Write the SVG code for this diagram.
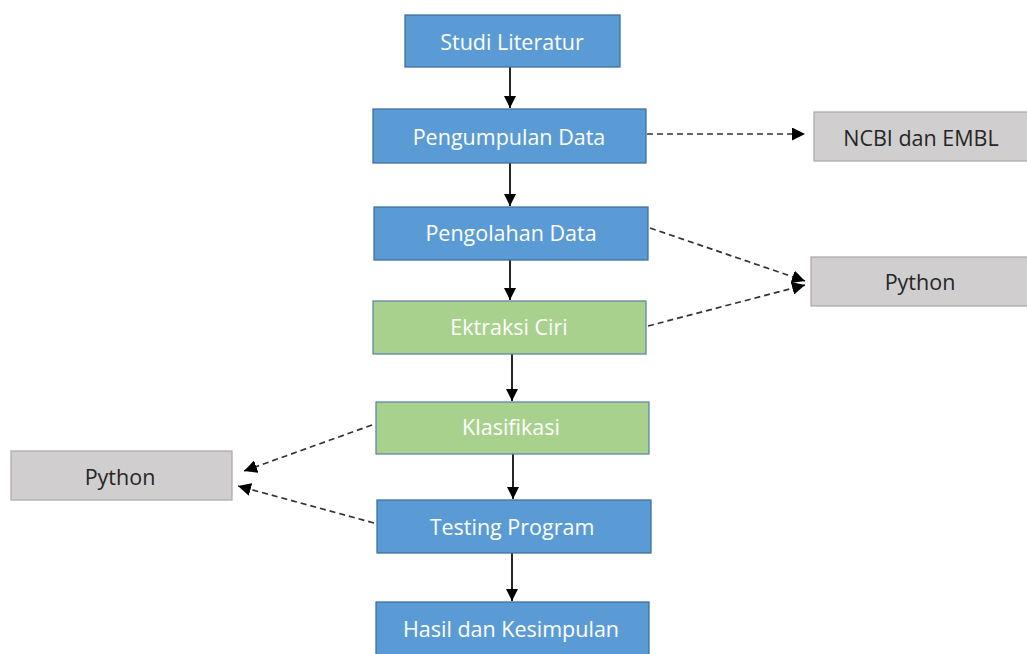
<svg xmlns="http://www.w3.org/2000/svg" width="1027" height="654" viewBox="0 0 1027 654">
  <style>
    .blue { fill: #5B9BD5; stroke: #41719C; stroke-width: 1.3; }
    .green { fill: #A9D18E; stroke: #5F87A8; stroke-width: 1.3; }
    .gray { fill: #D0CECE; stroke: #AFABAB; stroke-width: 1.3; }
    .lbl { font-family: "Open Sans", "Liberation Sans", sans-serif; font-size: 21.5px; font-weight: 500; fill: #FFFFFF; text-anchor: middle; dominant-baseline: central; }
    .dark { fill: #262626; }
    .solid { stroke: #000000; stroke-width: 1.7; fill: none; }
    .dash { stroke: #333333; stroke-width: 1.7; fill: none; stroke-dasharray: 6 4; }
  </style>
  <defs>
    <marker id="arrow" viewBox="0 0 10 10" refX="10" refY="5" markerWidth="12" markerHeight="12" markerUnits="userSpaceOnUse" orient="auto">
      <path d="M0,0 L10,5 L0,10 Z" fill="#000000"/>
    </marker>
    <marker id="arrowD" viewBox="0 0 10 10" refX="10" refY="5" markerWidth="13" markerHeight="13" markerUnits="userSpaceOnUse" orient="auto">
      <path d="M0,0 L10,5 L0,10 Z" fill="#000000"/>
    </marker>
  </defs>

  <g id="connectors">
    <line class="solid" x1="510" y1="67" x2="510" y2="108" marker-end="url(#arrow)"/>
    <line class="solid" x1="510" y1="163" x2="510" y2="206" marker-end="url(#arrow)"/>
    <line class="solid" x1="510" y1="260" x2="510" y2="300" marker-end="url(#arrow)"/>
    <line class="solid" x1="512" y1="354" x2="512" y2="401" marker-end="url(#arrow)"/>
    <line class="solid" x1="513" y1="454" x2="513" y2="499" marker-end="url(#arrow)"/>
    <line class="solid" x1="512" y1="553" x2="512" y2="601" marker-end="url(#arrow)"/>
    <line class="dash" x1="647" y1="134" x2="805" y2="134" marker-end="url(#arrowD)"/>
    <line class="dash" x1="650" y1="228" x2="805" y2="281" marker-end="url(#arrowD)"/>
    <line class="dash" x1="648" y1="326" x2="805" y2="285" marker-end="url(#arrowD)"/>
    <line class="dash" x1="372" y1="425" x2="244" y2="471" marker-end="url(#arrowD)"/>
    <line class="dash" x1="374" y1="523" x2="238" y2="486" marker-end="url(#arrowD)"/>
  </g>

  <g id="studi-literatur">
    <rect class="blue" x="405" y="15" width="215" height="52"/>
    <text class="lbl" x="512" y="41">Studi Literatur</text>
  </g>
  <g id="pengumpulan-data">
    <rect class="blue" x="373" y="109" width="273" height="54"/>
    <text class="lbl" x="509" y="136">Pengumpulan Data</text>
  </g>
  <g id="pengolahan-data">
    <rect class="blue" x="374" y="207" width="274" height="53"/>
    <text class="lbl" x="511" y="232">Pengolahan Data</text>
  </g>
  <g id="ektraksi-ciri">
    <rect class="green" x="373" y="301" width="273" height="53"/>
    <text class="lbl" x="509" y="326">Ektraksi Ciri</text>
  </g>
  <g id="klasifikasi">
    <rect class="green" x="376" y="402" width="273" height="52"/>
    <text class="lbl" x="511" y="426">Klasifikasi</text>
  </g>
  <g id="testing-program">
    <rect class="blue" x="377" y="500" width="274" height="53"/>
    <text class="lbl" x="512" y="526">Testing Program</text>
  </g>
  <g id="hasil-kesimpulan">
    <rect class="blue" x="376" y="602" width="273" height="54"/>
    <text class="lbl" x="511" y="628">Hasil dan Kesimpulan</text>
  </g>
  <g id="ncbi-embl">
    <rect class="gray" x="814" y="112" width="216" height="49"/>
    <text class="lbl dark" x="921" y="137">NCBI dan EMBL</text>
  </g>
  <g id="python-right">
    <rect class="gray" x="811" y="257" width="219" height="49"/>
    <text class="lbl dark" x="920" y="281">Python</text>
  </g>
  <g id="python-left">
    <rect class="gray" x="11" y="451" width="221" height="49"/>
    <text class="lbl dark" x="120" y="476">Python</text>
  </g>
</svg>
